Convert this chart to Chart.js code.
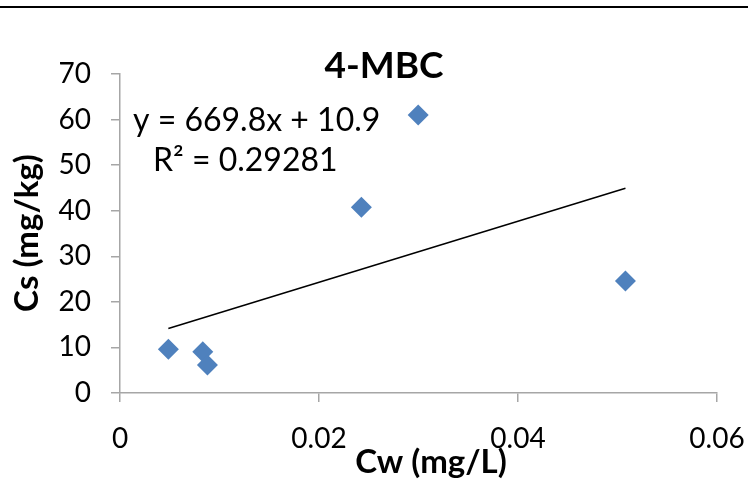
<!DOCTYPE html>
<html>
<head>
<meta charset="utf-8">
<script src="https://cdn.jsdelivr.net/npm/chart.js@4"></script>
<style>
  html, body { margin: 0; padding: 0; background: #fff; }
  #wrap { width: 748px; height: 483px; position: relative; }
</style>
</head>
<body>
<div id="wrap"><canvas id="chart" width="748" height="483"></canvas></div>
<script>
// data
const cw = [0.00486, 0.00832, 0.00879, 0.02426, 0.02997, 0.0508]
const cs = [9.6, 9.06, 6.14, 40.75, 61.0, 24.6]
const xTicks = [0, 0.02, 0.04, 0.06]
const yTicks = [0, 10, 20, 30, 40, 50, 60, 70]
const slope = 669.8
const intercept = 10.9
const eqText = "y = 669.8x + 10.9"
const r2Text = "R\u00b2 = 0.29281"

const FONT = "Lato, 'Open Sans', sans-serif"

const points = cw.map((x, i) => ({ x: x, y: cs[i] }))
const xMin = Math.min(...cw), xMax = Math.max(...cw)
const trend = [xMin, xMax].map(x => ({ x: x, y: slope * x + intercept }))

const textPlugin = {
    id: "texts",
    afterDraw(chart) {
        const ctx = chart.ctx
        ctx.save()
        // rule across the top
        ctx.fillStyle = "#000"
        ctx.fillRect(0, 6, chart.width, 2)

        ctx.textBaseline = "middle"
        ctx.textAlign = "center"
        ctx.font = "bold 37px " + FONT
        ctx.fillText("4-MBC", 384, 66)

        ctx.font = "bold 33px " + FONT
        ctx.fillText("Cw (mg/L)", 431, 462)

        ctx.save()
        ctx.translate(27, 233)
        ctx.rotate(-Math.PI / 2)
        ctx.fillText("Cs (mg/kg)", 0, 0)
        ctx.restore()

        ctx.textAlign = "left"
        ctx.font = "32px " + FONT
        ctx.fillText(eqText, 133, 121)
        ctx.fillText(r2Text, 153, 161)
        ctx.restore()
    }
}

const ctx = document.getElementById("chart").getContext("2d")

new Chart(ctx, {
    type: "scatter",
    data: {
        datasets: [{
            label: "trend",
            type: "line",
            data: trend,
            borderColor: "#000",
            borderWidth: 1.5,
            pointRadius: 0,
            fill: false,
            order: 2
        }, {
            label: "Cs",
            data: points,
            pointStyle: "rectRot",
            pointRadius: 10.5,
            pointHoverRadius: 10.5,
            backgroundColor: "#4f81bd",
            borderColor: "#4f81bd",
            borderWidth: 0,
            order: 1
        }]
    },
    options: {
        responsive: false,
        animation: false,
        layout: {
            padding: { top: 74, right: 31, left: 0, bottom: 0 }
        },
        plugins: {
            legend: { display: false },
            tooltip: { enabled: false }
        },
        scales: {
            x: {
                type: "linear",
                min: 0,
                max: 0.06,
                afterBuildTicks: s => { s.ticks = xTicks.map(v => ({ value: v })) },
                afterFit: s => {
                    s.height = 90
                    s.paddingLeft = 0
                    s.paddingRight = 0
                },
                grid: {
                    display: true,
                    drawOnChartArea: false,
                    drawTicks: true,
                    tickLength: 9,
                    color: "#a6a6a6",
                    lineWidth: 1.5
                },
                border: { color: "#a6a6a6", width: 1.5 },
                ticks: {
                    color: "#000",
                    font: { family: FONT, size: 28 },
                    padding: 20,
                    maxRotation: 0,
                    callback: v => String(v)
                }
            },
            y: {
                min: 0,
                max: 70,
                afterBuildTicks: s => { s.ticks = yTicks.map(v => ({ value: v })) },
                afterFit: s => {
                    s.width = 120
                    s.paddingTop = 0
                    s.paddingBottom = 0
                },
                grid: {
                    display: true,
                    drawOnChartArea: false,
                    drawTicks: true,
                    tickLength: 9,
                    color: "#a6a6a6",
                    lineWidth: 1.5
                },
                border: { color: "#a6a6a6", width: 1.5 },
                ticks: {
                    color: "#000",
                    font: { family: FONT, size: 28 },
                    padding: 20
                }
            }
        }
    },
    plugins: [textPlugin]
})
</script>
</body>
</html>
